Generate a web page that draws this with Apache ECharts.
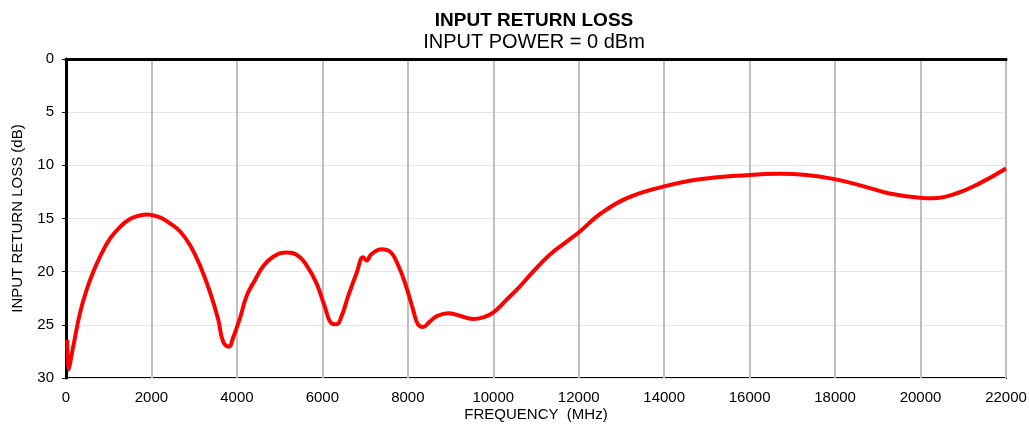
<!DOCTYPE html>
<html>
<head>
<meta charset="utf-8">
<script src="https://cdn.jsdelivr.net/npm/echarts@6/dist/echarts.min.js"></script>
<style>
  html, body { margin: 0; padding: 0; background: #fff; }
  #chart { width: 1029px; height: 424px; }
</style>
</head>
<body>
<div id="chart"></div>
<script>
// frequency (MHz) and input return loss (dB)
const freq = [30, 55, 171, 327, 484, 639, 795, 1029, 1263, 1497, 1731, 1900, 2199, 2433, 2667, 2901, 3134,
  3368, 3563, 3680, 3820, 3899, 4070, 4226, 4421, 4616, 4850, 5162, 5396, 5630, 5864, 6058, 6214, 6331,
  6448, 6604, 6799, 6955, 7033, 7150, 7384, 7579, 7774, 7969, 8125, 8242, 8359, 8515, 8671, 8943, 9216,
  9528, 9762, 9996, 10308, 10620, 10932, 11322, 11712, 12062, 12491, 13115, 13973, 14830, 16000, 16702,
  17326, 17988, 18650, 19275, 19977, 20289, 20835, 21380, 22000];
const loss = [26.4, 29.2, 27.0, 23.9, 21.7, 20.0, 18.6, 16.9, 15.8, 15.05, 14.72, 14.62, 14.9, 15.45, 16.2, 17.5, 19.4,
  21.9, 24.5, 26.6, 27.05, 26.35, 24.4, 22.3, 20.8, 19.5, 18.6, 18.2, 18.4, 19.4, 21.1, 23.3, 24.85, 24.95,
  24.2, 22.3, 20.15, 18.65, 18.95, 18.35, 17.9, 18.1, 19.4, 21.5, 23.6, 25.0, 25.2, 24.7, 24.2, 23.9, 24.15,
  24.45, 24.3, 23.85, 22.65, 21.4, 20.0, 18.4, 17.2, 16.1, 14.6, 13.1, 12.0, 11.3, 10.9, 10.8,
  10.9, 11.3, 11.95, 12.65, 13.05, 13.1, 12.65, 11.7, 10.3];
const xTicks = { min: 0, max: 22000, step: 2000 };
const yTicks = { min: 0, max: 30, step: 5 };

const chart = echarts.init(document.getElementById("chart"));
const font = "Liberation Sans, Arial, sans-serif";

chart.setOption({
  animation: false,
  title: {
    text: "INPUT RETURN LOSS",
    subtext: "INPUT POWER = 0 dBm",
    left: 529,
    textAlign: "center",
    top: 6,
    itemGap: 2,
    textStyle: { fontFamily: font, fontSize: 19, fontWeight: "bold", color: "#000" },
    subtextStyle: { fontFamily: font, fontSize: 20, color: "#000" }
  },
  grid: {
    left: 66, right: 23, top: 59, bottom: 46,
    outerBoundsMode: "none",
    show: true, borderColor: "#000", borderWidth: 2
  },
  xAxis: {
    type: "value",
    min: xTicks.min, max: xTicks.max, interval: xTicks.step,
    name: "FREQUENCY  (MHz)",
    nameLocation: "middle",
    nameGap: 29,
    nameMoveOverlap: false,
    nameTextStyle: { fontFamily: font, fontSize: 15, color: "#000" },
    axisLine: { lineStyle: { color: "#000", width: 3 } },
    axisTick: { show: false },
    axisLabel: { fontFamily: font, fontSize: 15, color: "#000", margin: 12, formatter: v => String(v) },
    splitLine: { lineStyle: { color: "#c0c0c0", width: 2 } }
  },
  yAxis: {
    type: "value",
    inverse: true,
    min: yTicks.min, max: yTicks.max, interval: yTicks.step,
    name: "INPUT RETURN LOSS (dB)",
    nameLocation: "middle",
    nameGap: 41,
    nameMoveOverlap: false,
    nameTextStyle: { fontFamily: font, fontSize: 15, color: "#000" },
    axisLine: { lineStyle: { color: "#000", width: 3 } },
    axisTick: { show: true, length: 4, lineStyle: { color: "#000" } },
    axisLabel: { fontFamily: font, fontSize: 15, color: "#000", margin: 12 },
    splitLine: { lineStyle: { color: "#e6e6e6", width: 1 } }
  },
  series: [{
    type: "line",
    data: freq.map((f, i) => [f, loss[i]]),
    smooth: 0.45,
    showSymbol: false,
    lineStyle: { color: "#ff0000", width: 4 }
  }]
});
</script>
</body>
</html>
